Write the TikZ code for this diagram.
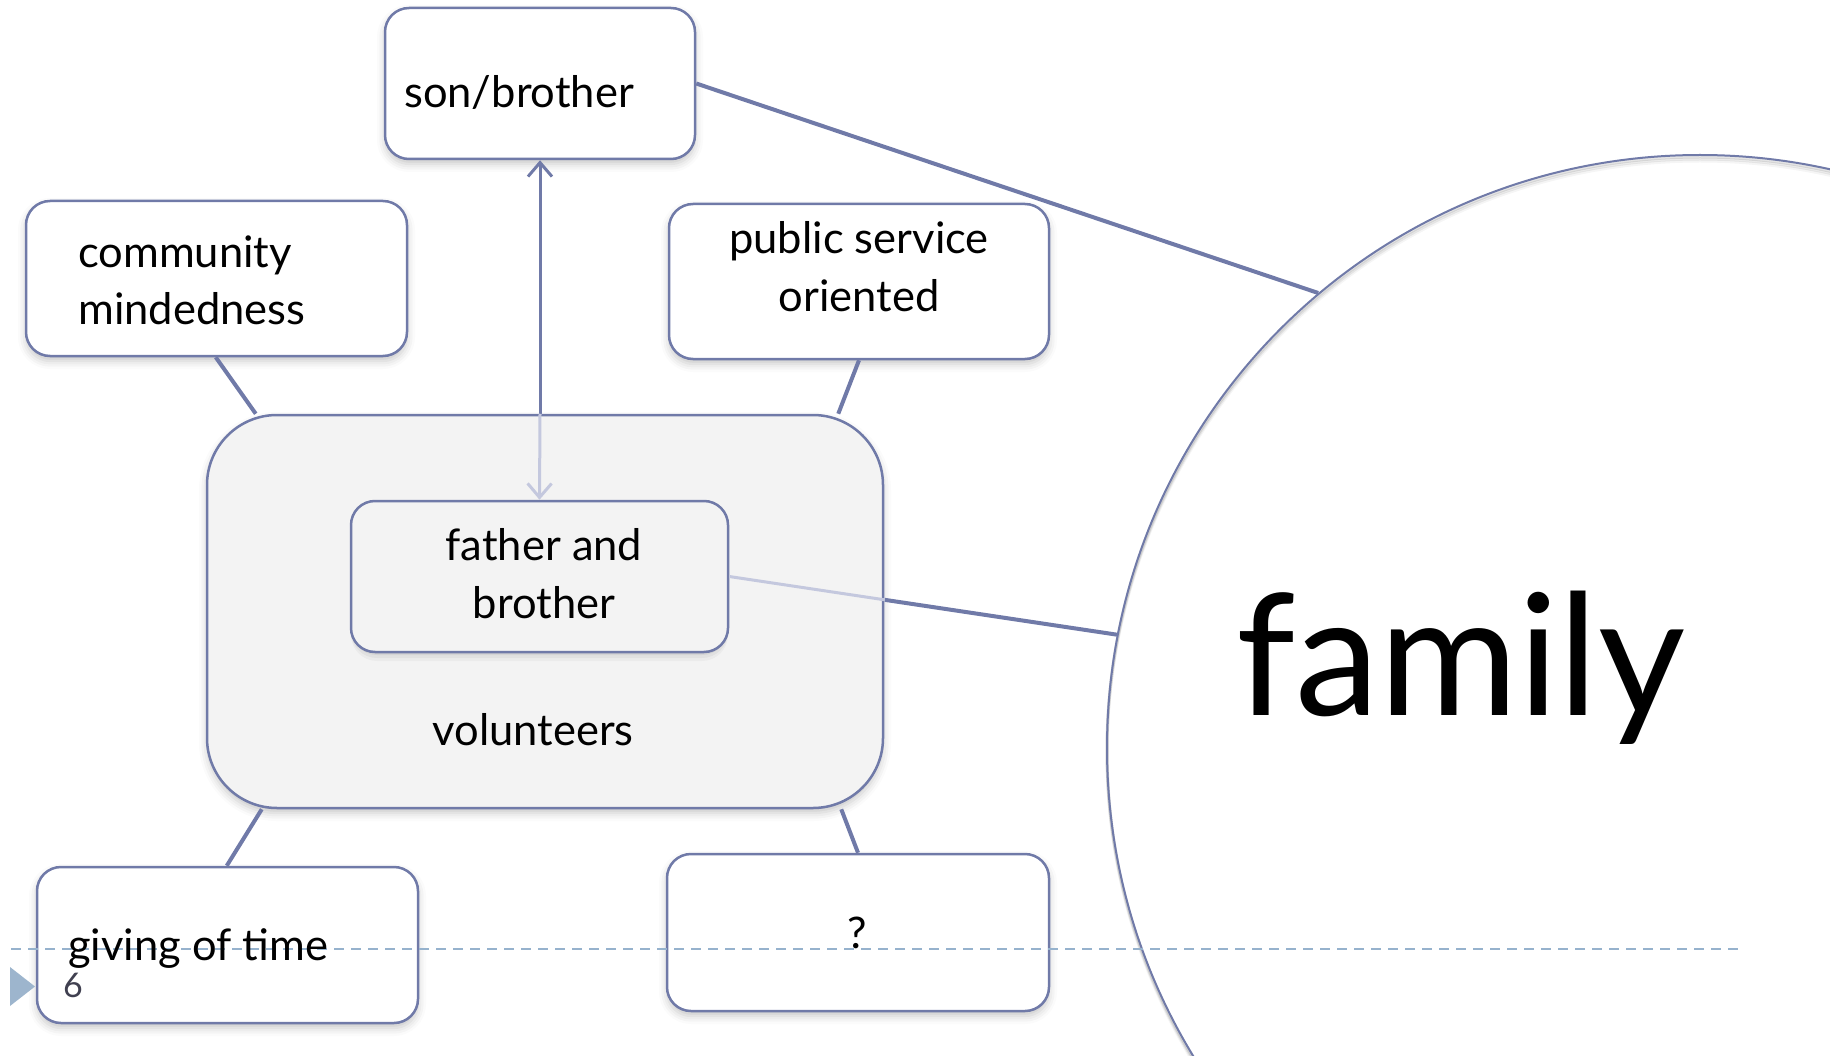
\documentclass[tikz,border=0pt]{standalone}
\usepackage{fontspec}
\setmainfont{Lato}
\usetikzlibrary{arrows.meta,shadows.blur,calc}
\definecolor{lineblue}{RGB}{112,122,168}
\definecolor{lightline}{RGB}{196,200,222}
\definecolor{volfill}{RGB}{243,243,243}
\definecolor{dashblue}{RGB}{150,178,205}
\definecolor{tri}{RGB}{157,181,205}
\definecolor{numgray}{RGB}{64,64,80}
\tikzset{
  softshadow/.style={blur shadow={shadow xshift=0pt, shadow yshift=-5pt, shadow blur radius=8pt, shadow opacity=#1}},
  box/.style={draw=lineblue, line width=2.5pt, rounded corners=24pt, fill=white, inner sep=0pt, softshadow=22},
  flatbox/.style={draw=lineblue, line width=2.5pt, rounded corners=24pt, fill=volfill, inner sep=0pt},
  lbl/.style={inner sep=0pt, font=\fontsize{43.5}{50}\selectfont, text=black},
  conn/.style={draw=lineblue, line width=4pt},
  barb/.style={-{Straight Barb[length=14pt,width=24pt]}, line width=3pt},
}
\begin{document}
\begin{tikzpicture}[x=1pt,y=-1pt]
\useasboundingbox (0,0) rectangle (1830,1056);
\clip (0,0) rectangle (1830,1056);
% big circle with a soft shadow
\foreach \d/\o in {2/0.10,4/0.07,6/0.04}{
  \draw[black, opacity=\o, line width=3pt] (1700,748+\d) circle[radius=593pt];}
\node[circle, draw=lineblue, line width=2pt, minimum size=1186pt, inner sep=0pt] (famc) at (1700,748) {};
% boxes
\node[box, fill=volfill, rounded corners=70pt, minimum width=676pt, minimum height=393pt] (vol) at (545,611.5) {};
\node[box, minimum width=310pt, minimum height=151pt] (son) at (540,83.5) {};
\node[box, minimum width=381pt, minimum height=155pt] (comm) at (216.5,278.5) {};
\node[box, minimum width=380pt, minimum height=155pt] (pub) at (859,281.5) {};
% soft shadow of the inner box
\foreach \d/\o in {3/0.05,6/0.04,9/0.03}{
  \fill[black, opacity=\o, rounded corners=26pt] (351,501+\d) rectangle (728,652+\d);}
\node[flatbox, minimum width=377pt, minimum height=151pt] (father) at (539.5,576.5) {};
\node[box, minimum width=381pt, minimum height=156pt] (giv) at (227.5,945) {};
\node[box, minimum width=382pt, minimum height=157pt] (q) at (858,932.5) {};
% connectors
\coordinate (vtop) at (son.south |- vol.north);
\draw[lineblue, barb] (vtop) -- (son.south);
\draw[lightline, barb] (vtop) -- (father.north);
\draw[conn] (son.east) -- (famc.130.3);
\coordinate (fedge) at ($(father.east)!0.4016!(famc.169.65)$);
\draw[lightline, line width=3pt] (father.east) -- (fedge);
\draw[conn] (fedge) -- (famc.169.65);
\draw[conn] ([xshift=191pt]comm.south west) -- ([xshift=50pt]vol.north west);
\draw[conn] (pub.south) -- ([xshift=-46pt]vol.north east);
\draw[conn] ([xshift=56pt]vol.south west) -- ([xshift=191pt]giv.north west);
\draw[conn] ([xshift=-43pt]vol.south east) -- (q.north);
% slide footer
\draw[dashblue, line width=1.5pt, dash pattern=on 10pt off 7pt] (11,949) -- (1739,949);
\fill[tri] (10,967) -- (10,1006) -- (35,986.5) -- cycle;
% texts
\node[lbl, anchor=base west] (sonT) at (404,108) {son/brother};
\node[lbl, anchor=base west] (comm1) at (78,268) {community};
\node[lbl, anchor=base west] (comm2) at (78,324) {mindedness};
\node[lbl, anchor=base] (pub1) at (859,254) {public service};
\node[lbl, anchor=base] (pub2) at (859,312) {oriented};
\node[lbl, anchor=base] (fat1) at (544,560) {father and};
\node[lbl, anchor=base] (fat2) at (544,618) {brother};
\node[lbl, anchor=base] (volT) at (533,745) {volunteers};
\node[lbl, anchor=base west] (givT) at (68,960) {giving of time};
\node[lbl, anchor=base] (qT) at (857,948) {?};
\node[inner sep=0pt, anchor=base west, font=\fontsize{169}{200}\selectfont] (famT) at (1236,715) {family};
\node[inner sep=0pt, anchor=base west, text=numgray, font=\fontsize{34}{40}\selectfont] (num) at (63,997) {6};
\end{tikzpicture}
\end{document}
